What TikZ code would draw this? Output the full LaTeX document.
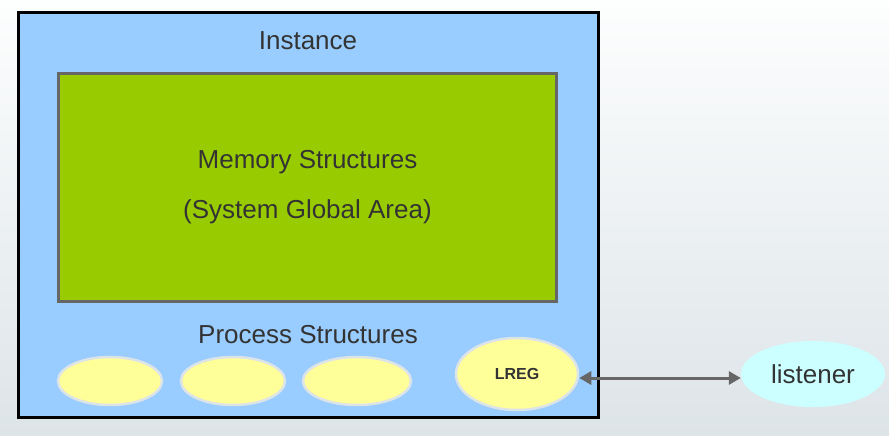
\documentclass[tikz,border=0pt]{standalone}
\usepackage{fontspec}
\setmainfont{Liberation Sans}
\usetikzlibrary{arrows.meta,shapes.geometric}
\definecolor{bgtop}{HTML}{FDFEFE}
\definecolor{bgbot}{HTML}{DDE4E8}
\definecolor{inst}{HTML}{99CCFF}
\definecolor{mem}{HTML}{99CC00}
\definecolor{proc}{HTML}{FFFF99}
\definecolor{lis}{HTML}{CCFFFF}
\definecolor{txt}{HTML}{333333}
\tikzset{
 proc/.style={ellipse,fill=proc,draw=bgbot,line width=2.5pt,inner sep=0pt},
 lbl/.style={text=txt,font=\fontsize{26}{50}\selectfont}
}
\begin{document}
\begin{tikzpicture}[x=1pt,y=-1pt]
\shade[top color=bgtop,bottom color=bgbot] (0,0) rectangle (889,436);
\useasboundingbox (0,0) rectangle (889,436);
\node[draw=black,line width=3pt,fill=inst,minimum width=580,minimum height=404,inner sep=0] (inst) at (308,215) {};
\node[lbl,anchor=center] (ti) at (308,41) {Instance};
\node[draw=black!60,line width=3pt,fill=mem,minimum width=498,minimum height=228,inner sep=0,lbl,align=center] (mem) at (307.5,187.5) {Memory Structures\\(System Global Area)};
\node[lbl] (ps) at (308,335) {Process Structures};
\node[proc,minimum width=104,minimum height=48] (p1) at (110,381) {};
\node[proc,minimum width=104,minimum height=48] (p2) at (233,381) {};
\node[proc,minimum width=108,minimum height=48] (p3) at (357,381) {};
\node[proc,minimum width=122,minimum height=72,font=\bfseries\fontsize{16}{19}\selectfont,text=txt] (lreg) at (517,374) {LREG};
\node[ellipse,fill=lis,minimum width=144,minimum height=66,inner sep=0,lbl] (lis) at (813,374) {listener};
\draw[black!60,line width=3pt,{Triangle[length=12pt,width=13pt]}-{Triangle[length=12pt,width=13pt]}] ([yshift=-4pt]lreg.east) -- ([yshift=-4pt]lis.west);
\end{tikzpicture}
\end{document}
